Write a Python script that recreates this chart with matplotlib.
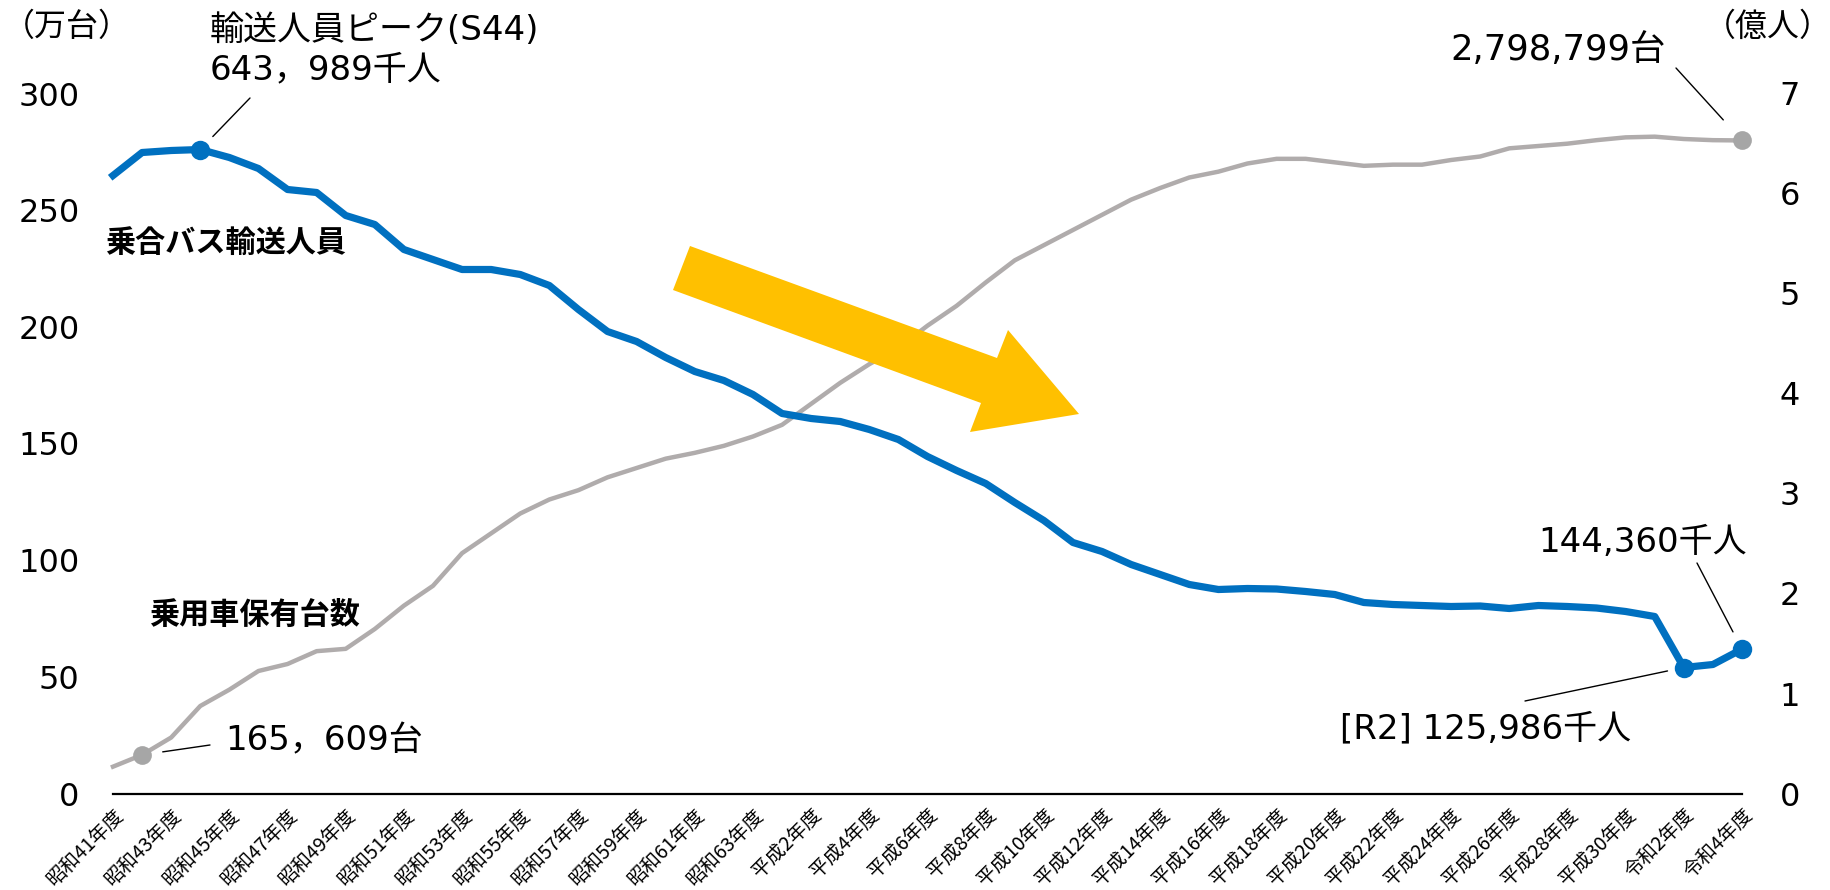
import matplotlib
matplotlib.use('Agg')
import matplotlib.pyplot as plt
from matplotlib.patches import Polygon
import numpy as np

plt.rcParams['font.family'] = ['DejaVu Sans', 'Noto Sans CJK JP']
CJK = ['Noto Sans CJK JP', 'DejaVu Sans']
MIX = ['DejaVu Sans', 'Noto Sans CJK JP']

# ---------------- data ----------------
# 乗用車保有台数 (万台), 昭和41年度 .. 令和4年度
cars_man = [11.5, 16.5609, 24, 37.5, 44.5, 52.5, 55.5, 61, 62, 70.5,
            80.5, 89, 103, 111.5, 120, 126, 130, 135.5, 139.5, 143.5,
            146, 149, 153, 158, 167, 176, 184, 191, 200.5, 209,
            219, 228.5, 235, 241.5, 248, 254.5, 259.5, 264, 266.5, 270,
            272, 272, 270.5, 269, 269.5, 269.5, 271.5, 273, 276.5, 277.5,
            278.5, 280, 281.2, 281.5, 280.5, 280, 279.8799]

# 乗合バス輸送人員 (億人)
bus_oku = [6.18, 6.41, 6.43, 6.43989, 6.36, 6.25, 6.04, 6.01, 5.78, 5.69,
           5.44, 5.34, 5.24, 5.24, 5.19, 5.08, 4.84, 4.62, 4.52, 4.36,
           4.22, 4.13, 3.99, 3.80, 3.75, 3.72, 3.64, 3.54, 3.37, 3.23,
           3.10, 2.91, 2.73, 2.51, 2.42, 2.29, 2.19, 2.09, 2.04, 2.05,
           2.045, 2.02, 1.99, 1.91, 1.89, 1.88, 1.87, 1.875, 1.85, 1.88,
           1.87, 1.855, 1.82, 1.77, 1.25986, 1.29, 1.4436]

tick_labels = ['昭和41年度', '昭和43年度', '昭和45年度', '昭和47年度', '昭和49年度',
               '昭和51年度', '昭和53年度', '昭和55年度', '昭和57年度', '昭和59年度',
               '昭和61年度', '昭和63年度', '平成2年度', '平成4年度', '平成6年度',
               '平成8年度', '平成10年度', '平成12年度', '平成14年度', '平成16年度',
               '平成18年度', '平成20年度', '平成22年度', '平成24年度', '平成26年度',
               '平成28年度', '平成30年度', '令和2年度', '令和4年度']

left_ticks = [0, 50, 100, 150, 200, 250, 300]
right_ticks = [0, 1, 2, 3, 4, 5, 6, 7]

car_marks = [1, 56]        # S42, R4
bus_marks = [3, 54, 56]    # S44, R2, R4

BLUE = '#0070C0'
GRAY = '#B0ACAC'
GRAYM = '#A6A6A6'
YELLOW = '#FFC000'

W, H = 1830, 890
fig = plt.figure(figsize=(W / 100, H / 100), dpi=100)


def fx(px):
    return px / W


def fy(py):
    return 1 - py / H


ax = fig.add_axes([fx(113), fy(793.5), fx(1742) - fx(113), fy(93.5) - fy(793.5)])
ax2 = ax.twinx()

x = np.arange(len(cars_man))
cars = np.array(cars_man)
bus = np.array(bus_oku)

ax.plot(x, cars, color=GRAY, lw=3.2, solid_joinstyle='round', clip_on=False, zorder=2)
ax.plot(x[car_marks], cars[car_marks], 'o', ms=13.5, color=GRAYM, mew=0,
        clip_on=False, zorder=3)

ax2.plot(x, bus, color=BLUE, lw=5.2, solid_joinstyle='round', clip_on=False, zorder=2)
ax2.plot(x[bus_marks], bus[bus_marks], 'o', ms=14, color=BLUE, mew=0,
         clip_on=False, zorder=3)

ax.set_xlim(0, len(x) - 1)
ax.set_ylim(0, 300)
ax2.set_ylim(0, 7)
ax.set_yticks(left_ticks)
ax2.set_yticks(right_ticks)
ax.tick_params(axis='y', length=0, pad=24, labelsize=23)
ax2.tick_params(axis='y', length=0, pad=27, labelsize=23)

ax.set_xticks(x[::2])
ax.set_xticklabels(tick_labels, rotation=45, ha='right', va='top',
                   rotation_mode='anchor', fontsize=14, family=CJK)
ax.tick_params(axis='x', length=0, pad=8)

for s in ['top', 'left', 'right']:
    ax.spines[s].set_visible(False)
for s in ax2.spines.values():
    s.set_visible(False)
ax.spines['bottom'].set_color('black')
ax.spines['bottom'].set_linewidth(1.6)

# unit labels
fig.text(fx(3), fy(27), '（万台）', fontsize=23, ha='left', va='center', family=CJK)
fig.text(fx(1832), fy(27), '（億人）', fontsize=23, ha='right', va='center', family=CJK)

# series labels
fig.text(fx(105), fy(243), '乗合バス輸送人員', fontsize=21.7, fontweight='bold',
         ha='left', va='center', family=CJK)
fig.text(fx(149), fy(615), '乗用車保有台数', fontsize=21.7, fontweight='bold',
         ha='left', va='center', family=CJK)

# annotations
AF = 24.5
fig.text(fx(210), fy(31), '輸送人員ピーク(S44)', fontsize=AF, ha='left', va='center', family=MIX)
fig.text(fx(210), fy(70), '643，989千人', fontsize=AF, ha='left', va='center', family=MIX)
fig.text(fx(1450), fy(50), '2,798,799台', fontsize=25.5, ha='left', va='center', family=MIX)
fig.text(fx(225), fy(741), '165，609台', fontsize=AF, ha='left', va='center', family=MIX)
fig.text(fx(1538), fy(543), '144,360千人', fontsize=AF, ha='left', va='center', family=MIX)
fig.text(fx(1340), fy(729), '[R2] 125,986千人', fontsize=AF, ha='left', va='center', family=MIX)

lp = dict(arrowstyle='-', color='black', lw=1.0, shrinkA=0)
ax2.annotate('', xy=(x[3], bus[3]), xytext=(fx(250), fy(98)),
             textcoords='figure fraction', arrowprops=dict(lp, shrinkB=13))
ax2.annotate('', xy=(x[56], bus[56]), xytext=(fx(1697), fy(563)),
             textcoords='figure fraction', arrowprops=dict(lp, shrinkB=14))
ax2.annotate('', xy=(x[54], bus[54]), xytext=(fx(1525), fy(701)),
             textcoords='figure fraction', arrowprops=dict(lp, shrinkB=12))
ax.annotate('', xy=(x[1], cars[1]), xytext=(fx(210), fy(745)),
            textcoords='figure fraction', arrowprops=dict(lp, shrinkB=15))
ax.annotate('', xy=(x[56], cars[56]), xytext=(fx(1676), fy(68)),
            textcoords='figure fraction', arrowprops=dict(lp, shrinkB=20))

# big yellow arrow (decoration)
arrow_px = [(690, 246), (997, 358), (1008, 330), (1079, 414),
            (970, 432), (981, 403), (673, 290)]
fig.add_artist(Polygon([(fx(a), fy(b)) for a, b in arrow_px], closed=True,
                       transform=fig.transFigure, facecolor=YELLOW,
                       edgecolor='none', zorder=10))

fig.savefig('out.png', dpi=100)
